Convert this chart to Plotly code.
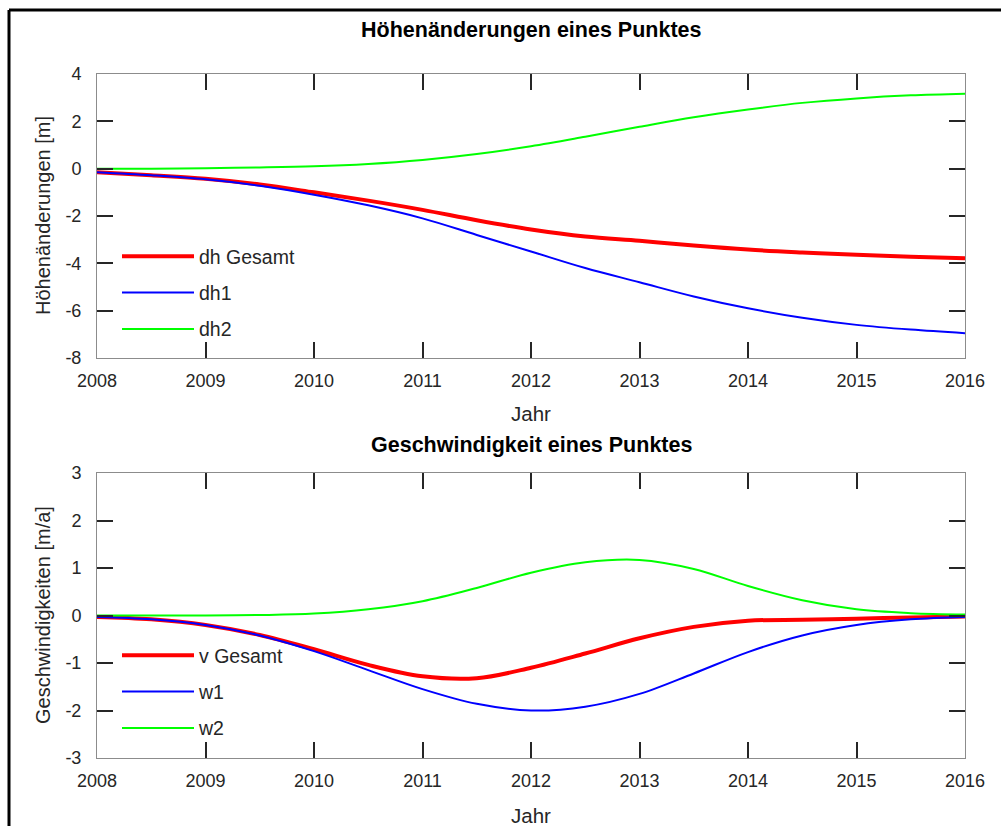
import plotly.graph_objects as go
from plotly.subplots import make_subplots

# --- data (half-year steps) ---
jahre = [2008, 2008.5, 2009, 2009.5, 2010, 2010.5, 2011, 2011.5, 2012,
         2012.5, 2013, 2013.5, 2014, 2014.5, 2015, 2015.5, 2016]

dh_gesamt = [-0.15, -0.28, -0.43, -0.67, -1.0, -1.35, -1.74, -2.18, -2.57,
             -2.87, -3.05, -3.25, -3.42, -3.54, -3.64, -3.72, -3.79]
dh1 = [-0.15, -0.28, -0.45, -0.72, -1.1, -1.55, -2.1, -2.8, -3.5,
       -4.2, -4.8, -5.4, -5.9, -6.3, -6.6, -6.8, -6.95]
dh2 = [0.0, 0.0, 0.02, 0.05, 0.1, 0.2, 0.37, 0.62, 0.95,
       1.35, 1.77, 2.17, 2.5, 2.78, 2.97, 3.1, 3.17]

v_gesamt = [-0.03, -0.08, -0.2, -0.41, -0.71, -1.04, -1.28, -1.32, -1.1,
            -0.8, -0.48, -0.24, -0.11, -0.09, -0.07, -0.04, -0.02]
w1 = [-0.03, -0.08, -0.2, -0.42, -0.75, -1.15, -1.55, -1.86, -2.0,
      -1.92, -1.65, -1.22, -0.77, -0.42, -0.2, -0.08, -0.03]
w2 = [0.0, 0.0, 0.0, 0.01, 0.04, 0.13, 0.3, 0.58, 0.9,
      1.12, 1.17, 0.98, 0.62, 0.32, 0.13, 0.05, 0.02]

x_ticks = list(range(2008, 2017))
y_ticks_oben = [-8, -6, -4, -2, 0, 2, 4]
y_ticks_unten = [-3, -2, -1, 0, 1, 2, 3]

W, H = 1001, 826
FONT = "Liberation Sans, Arial, sans-serif"
TXT = "#262626"


def px(x):
    return x / W


def py(y):
    return 1 - y / H


def labels(vals):
    # MATLAB style: plain hyphen minus
    return [str(v) for v in vals]


fig = make_subplots(rows=2, cols=1)

oben = [(dh_gesamt, "dh Gesamt", "#ff0000", 4), (dh1, "dh1", "#0000ff", 2), (dh2, "dh2", "#00ff00", 2)]
unten = [(v_gesamt, "v Gesamt", "#ff0000", 4), (w1, "w1", "#0000ff", 2), (w2, "w2", "#00ff00", 2)]

for i, (y, name, col, wid) in enumerate(oben):
    fig.add_trace(go.Scatter(x=jahre, y=y, name=name, mode="lines", legend="legend",
                             legendgroup=f"o{i}", line=dict(color=col, width=wid, shape="spline")),
                  row=1, col=1)
for i, (y, name, col, wid) in enumerate(unten):
    fig.add_trace(go.Scatter(x=jahre, y=y, name=name, mode="lines", legend="legend2",
                             legendgroup=f"u{i}", line=dict(color=col, width=wid, shape="spline")),
                  row=2, col=1)

axis_common = dict(showgrid=False, zeroline=False, showline=True, linecolor="#8c8c8c", linewidth=1,
                   mirror="ticks", ticks="inside", ticklen=16, tickwidth=2, tickcolor="#262626",
                   tickfont=dict(family=FONT, size=18, color=TXT), automargin=False)

fig.update_xaxes(range=[2008, 2016], tickvals=x_ticks, ticktext=labels(x_ticks), ticklabelstandoff=6,
                 domain=[px(97), px(965)], **axis_common)
fig.update_yaxes(range=[-8, 4], tickvals=y_ticks_oben, ticktext=labels(y_ticks_oben), ticklabelstandoff=11,
                 domain=[py(358), py(74)], row=1, col=1, **axis_common)
fig.update_yaxes(range=[-3, 3], tickvals=y_ticks_unten, ticktext=labels(y_ticks_unten), ticklabelstandoff=11,
                 domain=[py(758), py(473)], row=2, col=1, **axis_common)

leg = dict(bgcolor="rgba(0,0,0,0)", borderwidth=0, font=dict(family=FONT, size=19.5, color=TXT),
           tracegroupgap=8, itemwidth=72, xanchor="left", yanchor="top")
fig.update_layout(
    width=W, height=H, margin=dict(l=0, r=0, t=0, b=0, autoexpand=False),
    paper_bgcolor="white", plot_bgcolor="white", showlegend=True,
    legend=dict(x=px(117), y=py(237), **leg),
    legend2=dict(x=px(117), y=py(636), **leg),
)

annos = [
    ("<b>Höhenänderungen eines Punktes</b>", 531, 30, 0, 21.5),
    ("<b>Geschwindigkeit eines Punktes</b>", 531, 445, 0, 21.5),
    ("Jahr", 531, 413, 0, 20.5),
    ("Jahr", 531, 815, 0, 20.5),
    ("Höhenänderungen [m]", 43, 216, -90, 20),
    ("Geschwindigkeiten [m/a]", 43, 615, -90, 20),
]
for text, x, y, ang, size in annos:
    fig.add_annotation(text=text, x=px(x), y=py(y), xref="paper", yref="paper", showarrow=False,
                       textangle=ang, xanchor="center", yanchor="middle",
                       font=dict(family=FONT, size=size, color="#000000" if "<b>" in text else TXT))

# figure frame (top and left edges visible in reference)
fig.add_shape(type="line", xref="paper", yref="paper", x0=px(9), x1=1, y0=py(10), y1=py(10),
              line=dict(color="black", width=3))
fig.add_shape(type="line", xref="paper", yref="paper", x0=px(9), x1=px(9), y0=py(10), y1=0,
              line=dict(color="black", width=3))

# page without the default body margin so the figure sits at the window origin
fig.write_html("out.html", config={"displayModeBar": False},
               post_script="document.body.style.margin='0';")
